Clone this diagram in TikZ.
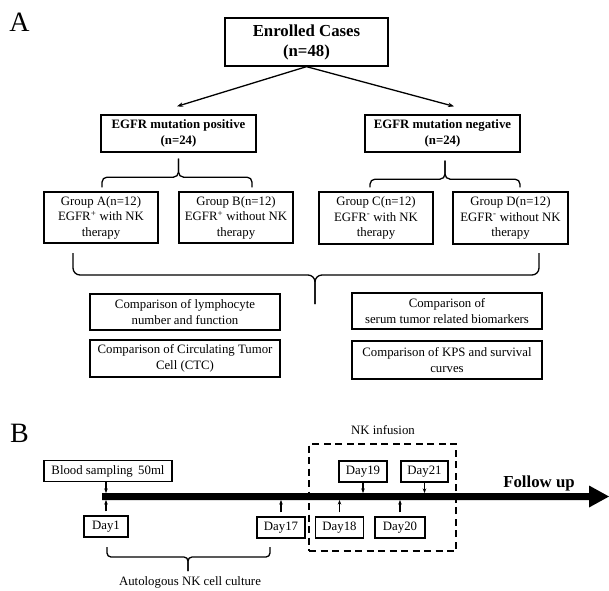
\documentclass[tikz,border=0pt]{standalone}
\usepackage{fontspec}
\setmainfont{Liberation Serif}
\usetikzlibrary{arrows.meta}
\begin{document}
\begin{tikzpicture}[x=1pt,y=-1pt,
  box/.style={draw,line width=1.3pt,align=center,inner sep=0pt,font=\fontsize{12.8}{15.5}\selectfont},
  bbox/.style={box,font=\fontsize{12.8}{16}\selectfont\bfseries},
  daybox/.style={box,minimum height=21pt},
  panel/.style={inner sep=0pt,font=\fontsize{28}{30}\selectfont},
  plain/.style={inner sep=0pt,font=\fontsize{12.8}{15.5}\selectfont},
  arr/.style={line width=1.3pt,-{Stealth[length=6pt,width=4.5pt]}},
  sarr/.style={line width=1.1pt,-{Stealth[length=4.5pt,width=3.5pt]}},
  bracepath/.style={line width=1.3pt,rounded corners=5pt}
]
\useasboundingbox (0,0) rectangle (609,590);

% ---------- Panel A ----------
\node[panel] (lblA) at (19.5,22.5) {A};
\node[box,font=\fontsize{16.8}{20}\selectfont\bfseries,minimum width=163pt,minimum height=48pt] (enr) at (306.5,42) {Enrolled Cases\\(n=48)};
\node[bbox,minimum width=155pt,minimum height=37pt] (pos) at (178.5,133.5) {EGFR mutation positive\\(n=24)};
\node[bbox,minimum width=155pt,minimum height=37pt] (neg) at (442.5,133.5) {EGFR mutation negative\\(n=24)};

\draw[arr] (enr.south) -- ([xshift=-1.5pt,yshift=8pt]pos.north);
\draw[arr] (enr.south) -- ([xshift=11.5pt,yshift=8pt]neg.north);

\node[box,minimum width=114pt,minimum height=51pt] (ga) at (101,217.5) {Group A(n=12)\\EGFR\textsuperscript{+} with NK\\therapy};
\node[box,minimum width=114pt,minimum height=51pt] (gb) at (236,217.5) {Group B(n=12)\\EGFR\textsuperscript{+} without NK\\therapy};
\node[box,minimum width=114pt,minimum height=52pt] (gc) at (376,218) {Group C(n=12)\\EGFR\textsuperscript{-} with NK\\therapy};
\node[box,minimum width=115pt,minimum height=52pt] (gd) at (510.5,218) {Group D(n=12)\\EGFR\textsuperscript{-} without NK\\therapy};

% braces under EGFR boxes
\draw[bracepath] ([yshift=-6pt]pos.south) -- ([yshift=-24.5pt]pos.south) -| ([xshift=1pt,yshift=4pt]ga.north);
\draw[bracepath] ([yshift=-6pt]pos.south) -- ([yshift=-24.5pt]pos.south) -| ([xshift=16pt,yshift=4pt]gb.north);
\draw[bracepath] ([xshift=2.5pt,yshift=-8pt]neg.south) -- ([xshift=2.5pt,yshift=-26.5pt]neg.south) -| ([xshift=-6pt,yshift=4pt]gc.north);
\draw[bracepath] ([xshift=2.5pt,yshift=-8pt]neg.south) -- ([xshift=2.5pt,yshift=-26.5pt]neg.south) -| ([xshift=9.5pt,yshift=4pt]gd.north);

% big brace
\coordinate (bbL) at (73,253);
\coordinate (bbR) at (539,253);
\coordinate (bbM) at (315,275);
\coordinate (bbT) at (315,304);
\draw[bracepath,rounded corners=7pt] (bbL) |- (bbM) -- (bbT);
\draw[bracepath,rounded corners=7pt] (bbR) |- (bbM) -- (bbT);

\node[box,minimum width=190pt,minimum height=36pt] (lym) at (185,312) {Comparison of lymphocyte\\number and function};
\node[box,minimum width=190pt,minimum height=37pt] (ctc) at (185,358.5) {Comparison of Circulating Tumor\\Cell (CTC)};
\node[box,minimum width=190pt,minimum height=36pt] (bio) at (447,311) {Comparison of\\serum tumor related biomarkers};
\node[box,minimum width=190pt,minimum height=38pt] (kps) at (447,360) {Comparison of KPS and survival\\curves};

% ---------- Panel B ----------
\node[panel] (lblB) at (19.5,433) {B};

\coordinate (ts) at (102,496.5);
\coordinate (tlTop) at (102,493);
\coordinate (tlBot) at (102,500);
\fill (ts) ++(0,-3.5) -- ++(487,0) -- ++(0,-7.5) -- ++(20,11) -- ++(-20,11) -- ++(0,-7.5) -- ++(-487,0) -- cycle;

\node[daybox,minimum width=128pt] (blood) at (108,471) {Blood sampling\ \,50ml};
\node[daybox,minimum width=44pt] (d1) at (106,526.5) {Day1};
\node[daybox,minimum width=48pt] (d17) at (281,527.5) {Day17};
\node[daybox,minimum width=48pt] (d18) at (339.5,527.5) {Day18};
\node[daybox,minimum width=50pt] (d20) at (400,527.5) {Day20};
\node[daybox,minimum width=48pt] (d19) at (363,471.5) {Day19};
\node[daybox,minimum width=47pt] (d21) at (424.5,471.5) {Day21};

\node[draw,dashed,dash pattern=on 7pt off 4.5pt,line width=1.3pt,minimum width=147pt,minimum height=107pt,inner sep=0pt] (inf) at (382.5,497.5) {};
\node[plain] (inflbl) at (383,430) {NK infusion};

\node[inner sep=0pt,font=\fontsize{16.8}{20}\selectfont\bfseries] (fu) at (539,483) {Follow up};

\draw[sarr] (d1.north |- blood.south) -- (d1.north |- tlTop);
\draw[sarr] ([yshift=4pt]d1.north) -- (d1.north |- tlBot);
\draw[sarr] ([yshift=4pt]d17.north) -- (d17.north |- tlBot);
\draw[sarr] ([yshift=4pt]d18.north) -- (d18.north |- tlBot);
\draw[sarr] ([yshift=4pt]d20.north) -- (d20.north |- tlBot);
\draw[sarr] (d19.south) -- (d19.south |- tlTop);
\draw[sarr] (d21.south) -- (d21.south |- tlTop);

% brace under Day1..Day17
\coordinate (cbL) at (107,547);
\coordinate (cbR) at (270,547);
\coordinate (cbM) at (188,557);
\coordinate (cbT) at (188,571);
\draw[bracepath,rounded corners=4pt] (cbL) |- (cbM) -- (cbT);
\draw[bracepath,rounded corners=4pt] (cbR) |- (cbM) -- (cbT);
\node[plain] (cult) at (190,582) {Autologous NK cell culture};
\end{tikzpicture}
\end{document}
